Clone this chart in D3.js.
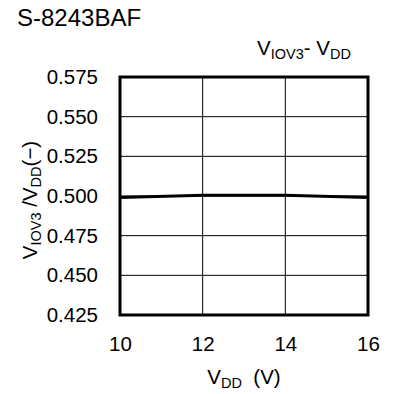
<!DOCTYPE html>
<html><head><meta charset="utf-8">
<script src="https://cdn.jsdelivr.net/npm/d3@7"></script>
<style>body{margin:0;background:#fff}svg{display:block}text{font-family:"Liberation Sans",Arial,sans-serif;fill:#000}</style>
</head><body>
<svg id="c" width="393" height="394"></svg>
<script>
const vdd = [10, 12, 14, 16];
const ratio = [0.499, 0.5004, 0.5004, 0.499];
const xTicks = [10, 12, 14, 16];
const yTicks = [0.425, 0.450, 0.475, 0.500, 0.525, 0.550, 0.575];
const title = "S-8243BAF";

const svg = d3.select("#c");
const L = 120, R = 368, T = 77, B = 315;
const FS = 20.5, SUB = 14.5;
const x = d3.scaleLinear().domain([10, 16]).range([L, R]);
const y = d3.scaleLinear().domain([0.425, 0.575]).range([B, T]);

// grid
svg.append("g").selectAll("line").data(xTicks.slice(1, -1)).join("line")
  .attr("x1", d => x(d)).attr("x2", d => x(d)).attr("y1", T).attr("y2", B)
  .attr("stroke", "#000").attr("stroke-width", 1);
svg.append("g").selectAll("line").data(yTicks.slice(1, -1)).join("line")
  .attr("y1", d => y(d)).attr("y2", d => y(d)).attr("x1", L).attr("x2", R)
  .attr("stroke", "#000").attr("stroke-width", 1);

// data line
svg.append("path").datum(vdd.map((v, i) => [v, ratio[i]]))
  .attr("d", d3.line().x(d => x(d[0])).y(d => y(d[1])))
  .attr("fill", "none").attr("stroke", "#000").attr("stroke-width", 3);

// frame
svg.append("rect").attr("x", L).attr("y", T).attr("width", R - L).attr("height", B - T)
  .attr("fill", "none").attr("stroke", "#000").attr("stroke-width", 3);

// axes labels via d3 axes (no lines)
const ya = svg.append("g").attr("transform", `translate(${L},0)`)
  .call(d3.axisLeft(y).tickValues(yTicks).tickFormat(d3.format(".3f")).tickSize(0).tickPadding(22));
ya.select(".domain").remove();
ya.selectAll("text").attr("font-size", FS).attr("font-family", "Liberation Sans, Arial, sans-serif").attr("fill", "#000");
const xa = svg.append("g").attr("transform", `translate(0,${B})`)
  .call(d3.axisBottom(x).tickValues(xTicks).tickFormat(d3.format("d")).tickSize(0).tickPadding(21));
xa.select(".domain").remove();
xa.selectAll("text").attr("font-size", FS).attr("font-family", "Liberation Sans, Arial, sans-serif").attr("fill", "#000");

// title
svg.append("text").attr("x", 17).attr("y", 26).attr("font-size", 24).text(title);

// subtitle V_IOV3- V_DD
const st = svg.append("text").attr("x", 257).attr("y", 55).attr("font-size", FS);
st.append("tspan").text("V");
st.append("tspan").attr("font-size", SUB).attr("dy", 4).text("IOV3");
st.append("tspan").attr("dy", -4).text("- V");
st.append("tspan").attr("font-size", SUB).attr("dy", 4).text("DD");

// x title
const xt = svg.append("text").attr("x", 244).attr("y", 384).attr("font-size", FS).attr("text-anchor", "middle");
xt.append("tspan").text("V");
xt.append("tspan").attr("font-size", SUB).attr("dy", 4).text("DD");
xt.append("tspan").attr("dy", -4).text("\u00a0\u00a0(V)");

// y title
const yt = svg.append("text").attr("transform", "translate(37,200) rotate(-90)")
  .attr("font-size", FS).attr("text-anchor", "middle");
yt.append("tspan").text("V");
yt.append("tspan").attr("font-size", SUB).attr("dy", 4).text("IOV3");
yt.append("tspan").attr("dy", -4).text(" /V");
yt.append("tspan").attr("font-size", SUB).attr("dy", 4).text("DD");
yt.append("tspan").attr("dy", -4).text("(\u2212)");
</script>
</body></html>
